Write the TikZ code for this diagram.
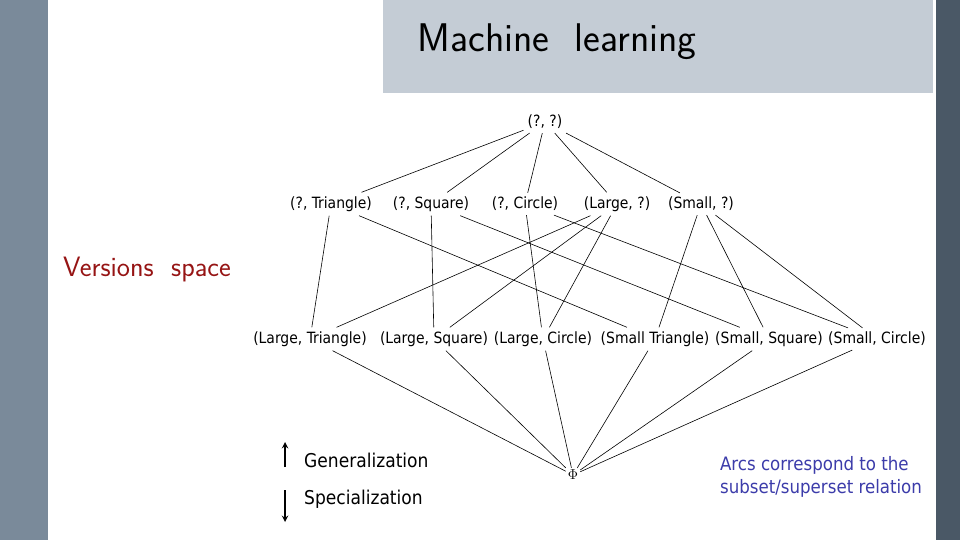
\documentclass[tikz,border=0pt]{standalone}
\usepackage{fontspec}
\setmainfont{DejaVu Sans Condensed}
\newfontfamily\titlefont{Latin Modern Sans}
\begin{document}
\begin{tikzpicture}[x=1pt,y=-1pt,
  n/.style={font=\fontsize{15.5}{18}\selectfont, inner sep=4pt},
  e/.style={line width=0.6pt}]
\useasboundingbox (0,0) rectangle (960,540);
\fill[white] (0,0) rectangle (960,540);
\fill[color={rgb,255:red,122;green,138;blue,154}] (0,0) rectangle (48,540);
\fill[color={rgb,255:red,74;green,88;blue,102}] (936,0) rectangle (960,540);
\fill[color={rgb,255:red,196;green,204;blue,213}] (383,0) rectangle (933,93);
\node[font=\titlefont\fontsize{40}{44}\selectfont] (title) at (557,42) {Machine\ \ learning};
\node[font=\titlefont\fontsize{28}{32}\selectfont, text={rgb,255:red,150;green,20;blue,20}] (vs) at (147,270) {Versions\ \ space};

\node[n] (t) at (545,122) {(?, ?)};
\node[n] (m1) at (331,204) {(?, Triangle)};
\node[n] (m2) at (431,204) {(?, Square)};
\node[n] (m3) at (525,204) {(?, Circle)};
\node[n] (m4) at (617,204) {(Large, ?)};
\node[n] (m5) at (701,204) {(Small, ?)};
\node[n] (b1) at (310,339) {(Large, Triangle)};
\node[n] (b2) at (434,339) {(Large, Square)};
\node[n] (b3) at (543,339) {(Large, Circle)};
\node[n] (b4) at (655,339) {(Small Triangle)};
\node[n] (b5) at (769,339) {(Small, Square)};
\node[n] (b6) at (877,339) {(Small, Circle)};
\node[n, inner sep=2pt] (phi) at (573,475) {$\Phi$};

\foreach \m in {m1,m2,m3,m4,m5} \draw[e] (t) -- (\m);
\draw[e] (m1) -- (b1); \draw[e] (m1) -- (b4);
\draw[e] (m2) -- (b2); \draw[e] (m2) -- (b5);
\draw[e] (m3) -- (b3); \draw[e] (m3) -- (b6);
\draw[e] (m4) -- (b1); \draw[e] (m4) -- (b2); \draw[e] (m4) -- (b3);
\draw[e] (m5) -- (b4); \draw[e] (m5) -- (b5); \draw[e] (m5) -- (b6);
\foreach \b in {b1,b2,b3,b4,b5,b6} \draw[e] (\b) -- (phi);

\node[n, font=\fontsize{19}{22}\selectfont, anchor=west] (gen) at (300,460) {Generalization};
\node[n, font=\fontsize{19}{22}\selectfont, anchor=west] (spe) at (300,499) {Specialization};
\coordinate (ga) at (285,442); \coordinate (gb) at (285,467);
\coordinate (sa) at (285,490); \coordinate (sb) at (285,522);
\draw[line width=1.8pt,-stealth] (gb) -- (ga);
\draw[line width=1.8pt,-stealth] (sa) -- (sb);
\node[n, font=\fontsize{18.5}{23}\selectfont, text={rgb,255:red,60;green,60;blue,170}, align=left] (arcs) at (821,477) {Arcs correspond to the\\subset/superset relation};
\end{tikzpicture}
\end{document}
